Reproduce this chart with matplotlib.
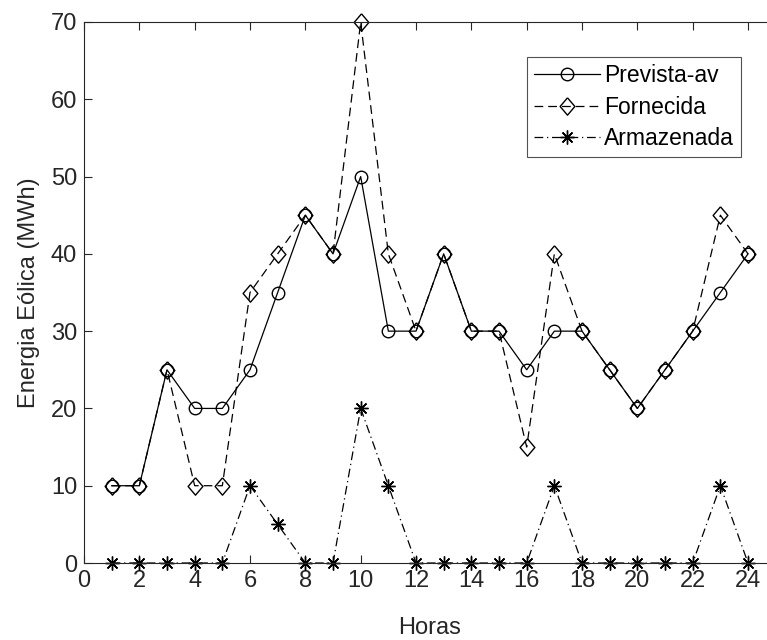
import matplotlib
matplotlib.use('Agg')
import matplotlib.pyplot as plt

plt.rcParams['font.family'] = ['Liberation Sans', 'DejaVu Sans']

horas = list(range(1, 25))
prevista = [10, 10, 25, 20, 20, 25, 35, 45, 40, 50, 30, 30,
            40, 30, 30, 25, 30, 30, 25, 20, 25, 30, 35, 40]
fornecida = [10, 10, 25, 10, 10, 35, 40, 45, 40, 70, 40, 30,
             40, 30, 30, 15, 40, 30, 25, 20, 25, 30, 45, 40]
armazenada = [0, 0, 0, 0, 0, 10, 5, 0, 0, 20, 10, 0,
              0, 0, 0, 0, 10, 0, 0, 0, 0, 0, 10, 0]

# losango estilo matlab (um pouco mais alto que largo)
losango = [(0, 1), (0.85, 0), (0, -1), (-0.85, 0), (0, 1)]

fig = plt.figure(figsize=(7.67, 6.4), dpi=100)
# eixo direito fica fora da figura, como no original
ax = fig.add_axes([84 / 767, 77 / 640, (775.7 - 84) / 767, (563 - 22) / 640])

ax.plot(horas, prevista, '-', color='k', lw=0.9, marker='o', ms=9,
        mfc='none', mec='k', mew=1.0, label='Prevista-av', clip_on=False)
ax.plot(horas, fornecida, '--', color='k', lw=0.9, marker=losango, ms=12.5,
        mfc='none', mec='k', mew=1.0, dashes=(7, 4), label='Fornecida', clip_on=False)
ax.plot(horas, armazenada, '-.', color='k', lw=0.9, marker=(8, 2, 0), ms=10,
        mec='k', mew=1.0, dashes=(7, 3, 1, 3), label='Armazenada', clip_on=False)

ax.set_xlim(0, 25)
ax.set_ylim(0, 70)
ax.set_xticks(range(0, 25, 2))
ax.set_yticks(range(0, 71, 10))
ax.tick_params(direction='in', top=True, right=True, labelsize=17,
               colors='#262626', length=6, width=0.8, pad=5)
for s in ax.spines.values():
    s.set_color('#262626')
    s.set_linewidth(0.8)

ax.set_xlabel('Horas', fontsize=17, color='#262626', labelpad=18)
ax.set_ylabel('Energia Eólica (MWh)', fontsize=17, color='#262626', labelpad=8)

leg = ax.legend(loc='upper left', bbox_to_anchor=((527 - 84) / (775.7 - 84), 1 - (57 - 22) / 541),
                fontsize=16.5, frameon=True, fancybox=False, borderpad=0.3,
                handlelength=2.9, handletextpad=0.15, labelspacing=0.38,
                borderaxespad=0)
leg.get_frame().set_edgecolor('#262626')
leg.get_frame().set_linewidth(0.8)

fig.savefig('out.png', dpi=100)
